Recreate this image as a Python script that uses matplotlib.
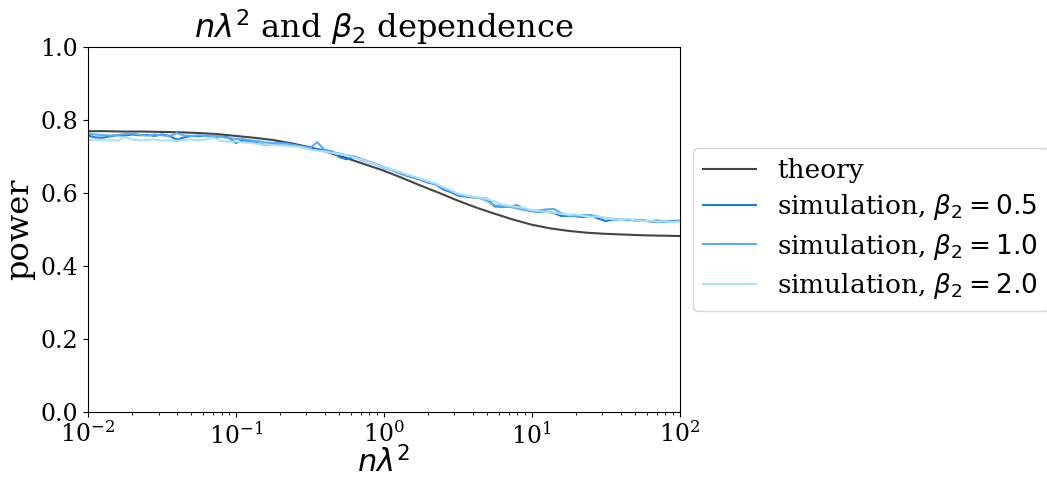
import matplotlib.pyplot as plt
import numpy as np

plt.rcParams['font.family'] = 'DejaVu Serif'
plt.rcParams['mathtext.fontset'] = 'dejavusans'

# theory curve, read at log10(n lambda^2) = -2 ... 2, step 0.125
log_theory = np.arange(-2, 2.0001, 0.125)
theory = [0.769, 0.769, 0.768, 0.768, 0.767, 0.766, 0.764, 0.761, 0.756,
          0.751, 0.745, 0.736, 0.725, 0.711, 0.695, 0.678, 0.661, 0.641,
          0.620, 0.600, 0.579, 0.560, 0.543, 0.527, 0.513, 0.503, 0.496,
          0.491, 0.488, 0.486, 0.484, 0.483, 0.482]

# simulations, read at log10(n lambda^2) = -2 ... 2, step 0.05
log_sim = np.linspace(-2, 2, 81)
sim_05 = [0.757, 0.752, 0.751, 0.755, 0.758, 0.757, 0.760, 0.758, 0.759,
          0.756, 0.760, 0.756, 0.746, 0.752, 0.756, 0.755, 0.757, 0.753,
          0.755, 0.752, 0.737, 0.744, 0.740, 0.736, 0.731, 0.733, 0.735,
          0.736, 0.730, 0.726, 0.722, 0.720, 0.717, 0.714, 0.698, 0.692,
          0.699, 0.690, 0.684, 0.677, 0.669, 0.663, 0.655, 0.648, 0.642,
          0.636, 0.628, 0.624, 0.610, 0.603, 0.593, 0.590, 0.588, 0.586,
          0.584, 0.563, 0.562, 0.563, 0.566, 0.556, 0.550, 0.548, 0.549,
          0.545, 0.537, 0.537, 0.536, 0.534, 0.538, 0.530, 0.523, 0.527,
          0.526, 0.528, 0.524, 0.525, 0.522, 0.520, 0.521, 0.523, 0.524]
sim_10 = [0.762, 0.760, 0.758, 0.757, 0.759, 0.761, 0.763, 0.759, 0.757,
          0.760, 0.758, 0.755, 0.764, 0.757, 0.756, 0.758, 0.755, 0.757,
          0.754, 0.750, 0.748, 0.747, 0.744, 0.742, 0.738, 0.737, 0.736,
          0.734, 0.731, 0.727, 0.723, 0.739, 0.718, 0.712, 0.708, 0.703,
          0.700, 0.693, 0.686, 0.679, 0.671, 0.664, 0.657, 0.650, 0.644,
          0.638, 0.630, 0.625, 0.614, 0.606, 0.596, 0.592, 0.589, 0.586,
          0.578, 0.566, 0.564, 0.562, 0.558, 0.553, 0.551, 0.552, 0.555,
          0.556, 0.545, 0.538, 0.537, 0.539, 0.540, 0.535, 0.531, 0.529,
          0.527, 0.525, 0.527, 0.524, 0.523, 0.525, 0.522, 0.521, 0.523]
sim_20 = [0.745, 0.746, 0.744, 0.745, 0.743, 0.753, 0.746, 0.744, 0.745,
          0.746, 0.743, 0.744, 0.742, 0.745, 0.746, 0.744, 0.747, 0.752,
          0.742, 0.740, 0.741, 0.738, 0.737, 0.734, 0.732, 0.731, 0.730,
          0.729, 0.727, 0.724, 0.719, 0.716, 0.713, 0.710, 0.706, 0.703,
          0.697, 0.691, 0.684, 0.677, 0.670, 0.664, 0.658, 0.651, 0.645,
          0.639, 0.632, 0.626, 0.616, 0.608, 0.598, 0.594, 0.590, 0.587,
          0.583, 0.577, 0.568, 0.565, 0.562, 0.559, 0.553, 0.550, 0.548,
          0.546, 0.543, 0.540, 0.541, 0.537, 0.534, 0.536, 0.531, 0.528,
          0.526, 0.529, 0.525, 0.523, 0.524, 0.521, 0.522, 0.520, 0.521]

fig = plt.figure(figsize=(10.47, 4.78), dpi=100)
ax = fig.add_subplot(111)
fig.subplots_adjust(left=0.084, right=0.649, top=0.902, bottom=0.138)

ax.plot(10**log_theory, theory, color='#444444', lw=1.5, label='theory')
ax.plot(10**log_sim, sim_05, color='#1a7af0', lw=1.5, label=r'simulation, $\beta_2 = 0.5$')
ax.plot(10**log_sim, sim_10, color='#5aaef5', lw=1.5, label=r'simulation, $\beta_2 = 1.0$')
ax.plot(10**log_sim, sim_20, color='#aee0f5', lw=1.5, label=r'simulation, $\beta_2 = 2.0$')

ax.set_xscale('log')
ax.set_xlim(1e-2, 1e2)
ax.set_ylim(0, 1)
ax.tick_params(labelsize=17)
ax.set_xlabel(r'$n\lambda^2$', fontsize=22, labelpad=-1)
ax.set_ylabel('power', fontsize=23)
ax.set_title(r'$n\lambda^2$ and $\beta_2$ dependence', fontsize=23)
ax.legend(loc='center left', bbox_to_anchor=(1.0, 0.5), fontsize=19,
          labelspacing=0.35)

plt.savefig('out.png', dpi=100)
